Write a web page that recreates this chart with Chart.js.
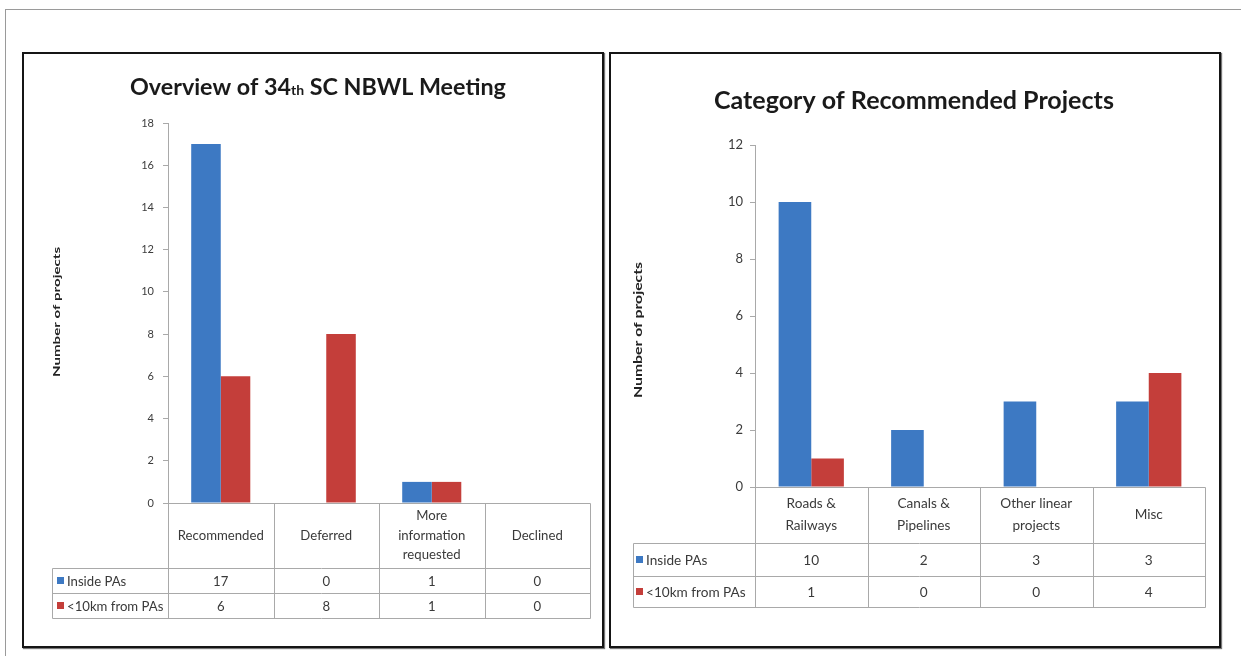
<!DOCTYPE html>
<html><head><meta charset="utf-8">
<script src="https://cdn.jsdelivr.net/npm/chart.js@4.4.1/dist/chart.umd.min.js"></script>
<style>
html,body{margin:0;padding:0;background:#fff;}
#wrap{position:relative;width:1241px;height:656px;overflow:hidden;background:#fff;}
.frame{position:absolute;left:5px;top:9px;width:1260px;height:700px;border-left:1px solid #9a9a9a;border-top:1px solid #9a9a9a;}
.panel{position:absolute;border:2px solid #151515;box-shadow:1px 1px 1px #777;background:#fff;}
canvas{position:absolute;left:0;top:0;}
</style></head>
<body><div id="wrap">
<div class="frame"></div>
<div class="panel" style="left:22px;top:52px;width:578px;height:592px"></div>
<div class="panel" style="left:609px;top:52px;width:608px;height:592px"></div>
<canvas id="c1" width="1241" height="656"></canvas>
<canvas id="c2" width="1241" height="656"></canvas>
</div>
<script>
// ---------- data ----------
const seriesNames = ['Inside PAs', '<10km from PAs'];
const overviewCategories = [['Recommended'], ['Deferred'], ['More', 'information', 'requested'], ['Declined']];
const overviewInside = [17, 0, 1, 0];
const overviewNear = [6, 8, 1, 0];
const overviewTickMax = 18;
const categoryCategories = [['Roads &', 'Railways'], ['Canals &', 'Pipelines'], ['Other linear', 'projects'], ['Misc']];
const categoryInside = [10, 2, 3, 3];
const categoryNear = [1, 0, 0, 4];
const categoryTickMax = 12;
const tickStep = 2;
const overviewTitle = [['Overview of 34', 1], ['th', 0.6], [' SC NBWL Meeting', 1]];
const categoryTitle = [['Category of Recommended Projects', 1]];
const yTitle = 'Number of projects';

const BLUE = '#3d79c3';
const RED = '#c43e3a';
const LINE = '#a9a9a9';
const W = 1241, H = 656;

function fitSize(ctx, text, width, weight, family) {
  ctx.font = weight + ' 100px ' + family;
  return 100 * width / ctx.measureText(text).width;
}

const tablePlugin = {
  id: 'tableAndTitles',
  afterDraw(chart, args, o) {
    const ctx = chart.ctx, xs = chart.scales.x, a = chart.chartArea;
    const n = chart.data.labels.length, band = (a.right - a.left) / n;
    const top = a.bottom, hb = top + o.headH, r1 = hb + o.rowH[0], r2 = r1 + o.rowH[1];
    const px = v => Math.round(v) + 0.5;
    ctx.save();
    ctx.strokeStyle = LINE; ctx.lineWidth = 1;
    const L = (x1, y1, x2, y2) => { ctx.beginPath(); ctx.moveTo(px(x1), px(y1)); ctx.lineTo(px(x2), px(y2)); ctx.stroke(); };
    L(a.left, top, a.right, top);
    L(o.tableLeft, hb, a.right, hb);
    L(o.tableLeft, r1, a.right, r1);
    L(o.tableLeft, r2, a.right, r2);
    L(o.tableLeft, hb, o.tableLeft, r2);
    L(a.left, top, a.left, r2);
    for (let i = 1; i <= n; i++) L(a.left + band * i, top, a.left + band * i, r2);

    // table text
    const fam = 'Lato';
    const fs = fitSize(ctx, o.fitWord, o.fitWidth, 'normal', fam);
    ctx.font = 'normal ' + fs.toFixed(2) + 'px ' + fam;
    ctx.fillStyle = '#3a3a3a';
    ctx.textAlign = 'center'; ctx.textBaseline = 'middle';
    chart.data.labels.forEach((lines, i) => {
      const cx = xs.getPixelForValue(i);
      const cy = (top + hb) / 2;
      lines.forEach((t, k) => ctx.fillText(t, cx, cy + (k - (lines.length - 1) / 2) * o.lineH));
    });
    const rowsY = [(hb + r1) / 2, (r1 + r2) / 2];
    chart.data.datasets.forEach((ds, d) => {
      ds.data.forEach((v, i) => ctx.fillText(String(v), xs.getPixelForValue(i), rowsY[d] + 1));
      ctx.fillStyle = ds.backgroundColor;
      ctx.fillRect(o.tableLeft + o.sqOff, rowsY[d] - 3.5, 7, 7);
      ctx.fillStyle = '#3a3a3a';
      ctx.textAlign = 'left';
      ctx.fillText(ds.label, o.tableLeft + o.sqOff + 10, rowsY[d] + 1);
      ctx.textAlign = 'center';
    });

    // chart title
    let tw = 0;
    o.title.forEach(p => { ctx.font = 'bold ' + (100 * p[1]) + 'px ' + fam; tw += ctx.measureText(p[0]).width; });
    const ts = 100 * o.titleW / tw;
    let x = o.titleX - o.titleW / 2;
    ctx.fillStyle = '#1a1a1a'; ctx.textAlign = 'left'; ctx.textBaseline = 'alphabetic';
    o.title.forEach(p => {
      ctx.font = 'bold ' + (ts * p[1]).toFixed(2) + 'px ' + fam;
      ctx.fillText(p[0], x, o.titleY);
      x += ctx.measureText(p[0]).width;
    });

    // y axis title (fixed font size, stretched to the measured length)
    ctx.save();
    ctx.translate(o.yTitleX, o.yTitleY);
    ctx.rotate(-Math.PI / 2);
    ctx.font = 'bold ' + o.yTitleSize + 'px ' + fam;
    const sx = o.yTitleW / ctx.measureText(yTitle).width;
    ctx.scale(sx, 1);
    ctx.fillStyle = '#222';
    ctx.textAlign = 'center'; ctx.textBaseline = 'middle';
    ctx.fillText(yTitle, 0, 0);
    ctx.restore();
    ctx.restore();
  }
};

function makeChart(id, cfg) {
  return new Chart(document.getElementById(id), {
    type: 'bar',
    data: {
      labels: cfg.labels,
      datasets: [
        { label: seriesNames[0], data: cfg.inside, backgroundColor: BLUE, borderWidth: 0 },
        { label: seriesNames[1], data: cfg.near, backgroundColor: RED, borderWidth: 0 }
      ]
    },
    options: {
      responsive: false, animation: false, devicePixelRatio: 1,
      layout: { padding: { left: cfg.area.left - cfg.yW, top: cfg.area.top, right: W - cfg.area.right, bottom: H - cfg.area.bottom } },
      datasets: { bar: { categoryPercentage: cfg.catPct, barPercentage: 1 } },
      plugins: { legend: { display: false }, title: { display: false }, tooltip: { enabled: false }, tableAndTitles: cfg.table },
      scales: {
        x: { display: false, offset: true },
        y: {
          min: 0, max: cfg.yMax,
          ticks: { stepSize: tickStep, color: '#3c3c3c', font: { family: 'Lato', size: cfg.tickSize }, padding: cfg.tickPad },
          grid: { drawOnChartArea: false, drawTicks: true, tickLength: 5, color: LINE },
          border: { color: LINE },
          afterFit(s) { s.width = cfg.yW; }
        }
      }
    },
    plugins: [tablePlugin]
  });
}

makeChart('c1', {
  labels: overviewCategories, inside: overviewInside, near: overviewNear, yMax: overviewTickMax,
  area: { left: 168, right: 590, top: 123, bottom: 503 }, yW: 60, catPct: 0.56, tickSize: 11, tickPad: 9,
  table: { headH: 65, rowH: [25, 25], lineH: 19.5, tableLeft: 52, sqOff: 5, fitWord: 'Recommended', fitWidth: 86,
    title: overviewTitle, titleX: 318, titleW: 376, titleY: 95, yTitleX: 57, yTitleY: 312, yTitleW: 130, yTitleSize: 10 }
});
makeChart('c2', {
  labels: categoryCategories, inside: categoryInside, near: categoryNear, yMax: categoryTickMax,
  area: { left: 755, right: 1205, top: 145, bottom: 487 }, yW: 60, catPct: 0.58, tickSize: 13, tickPad: 7,
  table: { headH: 56, rowH: [33, 31], lineH: 22, tableLeft: 633, sqOff: 3, fitWord: 'Other linear', fitWidth: 72,
    title: categoryTitle, titleX: 914, titleW: 400, titleY: 109, yTitleX: 638, yTitleY: 330, yTitleW: 136, yTitleSize: 12 }
});
</script>
</body></html>
